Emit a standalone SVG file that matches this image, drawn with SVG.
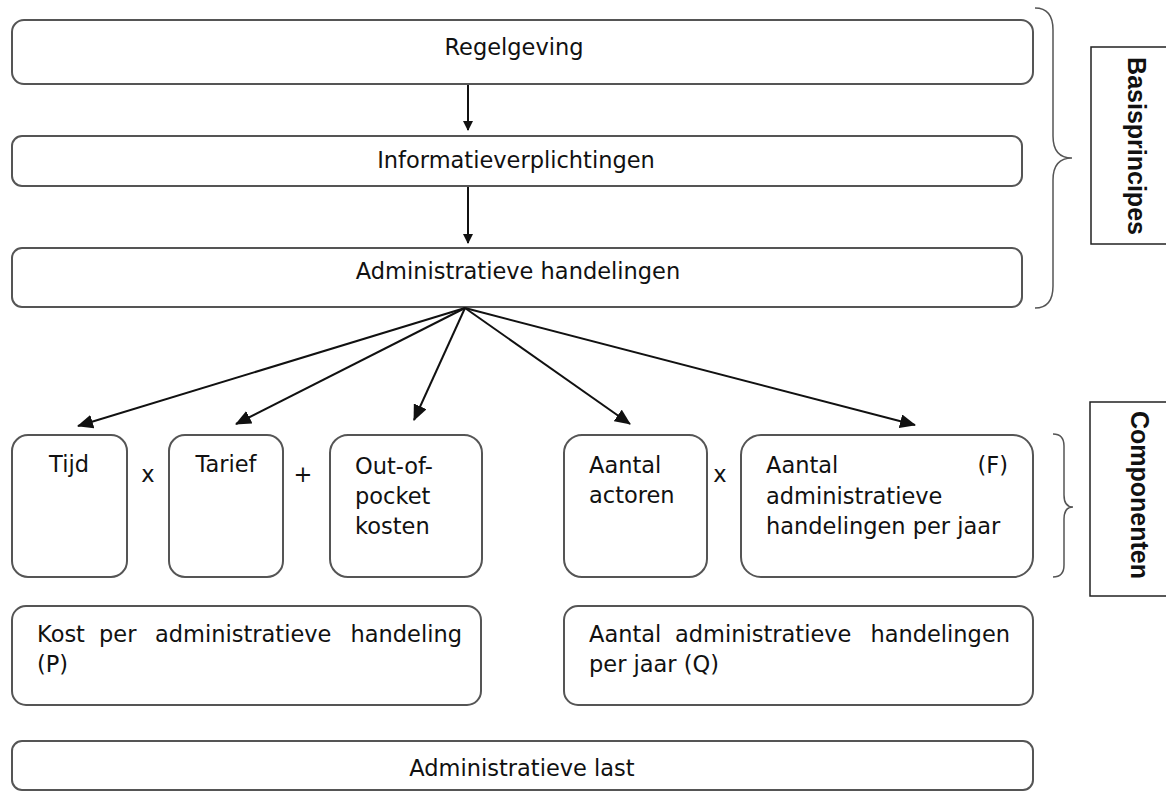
<svg xmlns="http://www.w3.org/2000/svg" width="1166" height="792" viewBox="0 0 1166 792">
<style>
.box{fill:#fff;stroke:#555;stroke-width:2}
.t{font-family:"DejaVu Sans",Verdana,sans-serif;font-size:22.5px;fill:#111}
.c{stroke:#111;stroke-width:2;fill:none}
.br{stroke:#555;stroke-width:1.5;fill:none}
.lbl{font-family:"Liberation Sans",Arial,sans-serif;font-weight:bold;font-size:25px;fill:#111}
</style>
<defs>
<marker id="ah" markerWidth="10" markerHeight="10" refX="9" refY="5" orient="auto" markerUnits="userSpaceOnUse"><path d="M0,0 L10,5 L0,10 z" fill="#111"/></marker>
<marker id="ah2" markerWidth="16" markerHeight="14" refX="15" refY="7" orient="auto" markerUnits="userSpaceOnUse"><path d="M0,0 L16,7 L0,14 z" fill="#111"/></marker>
</defs>
<g id="regelgeving"><rect class="box" x="12" y="20" width="1021" height="64" rx="12"/><text class="t" x="514" y="55" text-anchor="middle">Regelgeving</text></g>
<g id="informatieverplichtingen"><rect class="box" x="12" y="136" width="1010" height="50" rx="10"/><text class="t" x="516" y="168" text-anchor="middle">Informatieverplichtingen</text></g>
<g id="administratieve-handelingen"><rect class="box" x="12" y="248" width="1010" height="59" rx="10"/><text class="t" x="518" y="279" text-anchor="middle">Administratieve handelingen</text></g>
<g id="tijd"><rect class="box" x="12" y="435" width="115" height="142" rx="16"/><text class="t" x="69" y="472" text-anchor="middle">Tijd</text></g>
<g id="tarief"><rect class="box" x="169" y="435" width="114" height="142" rx="16"/><text class="t" x="226" y="472" text-anchor="middle">Tarief</text></g>
<g id="out-of-pocket"><rect class="box" x="330" y="435" width="152" height="142" rx="18"/><text class="t" x="355" y="474">Out-of-</text><text class="t" x="355" y="504">pocket</text><text class="t" x="355" y="534">kosten</text></g>
<g id="aantal-actoren"><rect class="box" x="564" y="435" width="143" height="142" rx="18"/><text class="t" x="589" y="473">Aantal</text><text class="t" x="589" y="503">actoren</text></g>
<g id="aantal-f"><rect class="box" x="741" y="435" width="292" height="142" rx="20"/><text class="t" x="766" y="473">Aantal</text><text class="t" x="1008" y="473" text-anchor="end">(F)</text><text class="t" x="766" y="504">administratieve</text><text class="t" x="766" y="534">handelingen per jaar</text></g>
<g id="operators"><text class="t" x="148" y="482" text-anchor="middle">x</text><text class="t" x="303" y="482" text-anchor="middle">+</text><text class="t" x="720" y="482" text-anchor="middle">x</text></g>
<g id="kost-p"><rect class="box" x="12" y="606" width="469" height="99" rx="14"/><text class="t" x="37" y="642">Kost</text><text class="t" x="99" y="642">per</text><text class="t" x="155" y="642">administratieve</text><text class="t" x="462" y="642" text-anchor="end">handeling</text><text class="t" x="37" y="672">(P)</text></g>
<g id="aantal-q"><rect class="box" x="564" y="606" width="469" height="99" rx="14"/><text class="t" x="589" y="642">Aantal</text><text class="t" x="675" y="642">administratieve</text><text class="t" x="1010" y="642" text-anchor="end">handelingen</text><text class="t" x="589" y="672">per jaar (Q)</text></g>
<g id="administratieve-last"><rect class="box" x="12" y="741" width="1021" height="49" rx="10"/><text class="t" x="522" y="776" text-anchor="middle">Administratieve last</text></g>
<g id="connectors">
<line class="c" x1="468" y1="85" x2="468" y2="130" marker-end="url(#ah)"/>
<line class="c" x1="468" y1="187" x2="468" y2="243" marker-end="url(#ah)"/>
<line class="c" x1="465" y1="308" x2="78" y2="426" marker-end="url(#ah2)"/>
<line class="c" x1="465" y1="308" x2="236" y2="424" marker-end="url(#ah2)"/>
<line class="c" x1="465" y1="308" x2="414" y2="420" marker-end="url(#ah2)"/>
<line class="c" x1="465" y1="308" x2="630" y2="424" marker-end="url(#ah2)"/>
<line class="c" x1="465" y1="308" x2="915" y2="425" marker-end="url(#ah2)"/>
</g>
<g id="basisprincipes">
<path class="br" d="M1035,8 Q1053,8 1053,30 L1053,136 Q1053,158 1072,158 Q1053,158 1053,180 L1053,286 Q1053,308 1035,308"/>
<rect x="1091" y="47" width="80" height="197" fill="#fff" stroke="#222" stroke-width="1.5"/>
<text class="lbl" x="0" y="0" transform="translate(1128,146) rotate(90)" text-anchor="middle">Basisprincipes</text>
</g>
<g id="componenten">
<path class="br" d="M1053,434 Q1064,434 1064,446 L1064,495 Q1064,507 1073,507 Q1064,507 1064,519 L1064,565 Q1064,577 1053,577"/>
<rect x="1090" y="402" width="80" height="194" fill="#fff" stroke="#222" stroke-width="1.5"/>
<text class="lbl" x="0" y="0" transform="translate(1131,495) rotate(90)" text-anchor="middle">Componenten</text>
</g>
</svg>
